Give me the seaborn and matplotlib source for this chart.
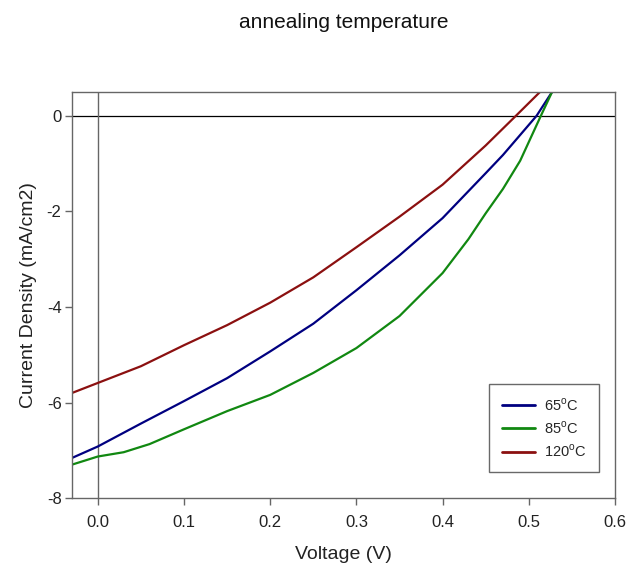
import numpy as np
import pandas as pd
import matplotlib
matplotlib.use("Agg")
import matplotlib.pyplot as plt
import seaborn as sns

# ---- data ----
v_65 = [-0.03, 0.00, 0.05, 0.10, 0.15, 0.20, 0.25, 0.30, 0.35, 0.40, 0.45, 0.47, 0.49, 0.509, 0.527]
j_65 = [-7.16, -6.92, -6.44, -5.97, -5.49, -4.93, -4.35, -3.65, -2.92, -2.14, -1.20, -0.82, -0.40, 0.00, 0.50]

v_85 = [-0.03, 0.00, 0.03, 0.06, 0.10, 0.15, 0.20, 0.25, 0.30, 0.35, 0.40, 0.43, 0.45, 0.47, 0.49, 0.514, 0.527]
j_85 = [-7.30, -7.13, -7.04, -6.87, -6.56, -6.18, -5.84, -5.38, -4.86, -4.19, -3.29, -2.58, -2.04, -1.53, -0.94, 0.00, 0.50]

v_120 = [-0.03, 0.00, 0.05, 0.10, 0.15, 0.20, 0.25, 0.30, 0.35, 0.40, 0.45, 0.485, 0.513]
j_120 = [-5.80, -5.59, -5.24, -4.80, -4.38, -3.91, -3.38, -2.75, -2.11, -1.44, -0.62, 0.00, 0.50]

labels = ["65$^{\\rm o}$C", "85$^{\\rm o}$C", "120$^{\\rm o}$C"]
colors = ["#000080", "#118811", "#8b1010"]

x_ticks = [0.0, 0.1, 0.2, 0.3, 0.4, 0.5, 0.6]
y_ticks = [-8, -6, -4, -2, 0]

frames = []
for lab, v, j in zip(labels, [v_65, v_85, v_120], [j_65, j_85, j_120]):
    frames.append(pd.DataFrame({"Voltage": v, "J": j, "series": lab}))
df = pd.concat(frames, ignore_index=True)

sns.set_style("white")
plt.rcParams["font.family"] = ["Liberation Sans", "DejaVu Sans"]
plt.rcParams["axes.unicode_minus"] = False
plt.rcParams["mathtext.fontset"] = "custom"
plt.rcParams["mathtext.rm"] = "Liberation Sans"

fig = plt.figure(figsize=(6.27, 5.66), dpi=100)
ax = fig.add_axes([0.1148, 0.120, 0.866, 0.7175])

sns.lineplot(data=df, x="Voltage", y="J", hue="series", hue_order=labels,
             palette=dict(zip(labels, colors)), sort=False, estimator=None,
             units="series", linewidth=1.6, ax=ax)

ax.axhline(0, color="black", linewidth=0.9, zorder=1)
ax.axvline(0, color="#666666", linewidth=1.0, zorder=1)

ax.set_xlim(-0.03, 0.6)
ax.set_ylim(-8, 0.5)
ax.set_xticks(x_ticks)
ax.set_xticklabels([f"{t:.1f}" for t in x_ticks])
ax.set_yticks(y_ticks)
ax.set_yticklabels([str(t) for t in y_ticks])

for s in ax.spines.values():
    s.set_visible(True)
    s.set_color("#666666")
    s.set_linewidth(1.0)
ax.tick_params(axis="both", direction="out", length=5, width=1.0, color="#666666",
               labelsize=12, labelcolor="#222222", bottom=True, left=True)
ax.tick_params(axis="x", pad=7.5)
ax.tick_params(axis="y", pad=2.5)

ax.set_xlabel("Voltage (V)", fontsize=14, color="#222222", labelpad=11)
ax.set_ylabel("Current Density (mA/cm2)", fontsize=14, color="#222222", labelpad=7)

fig.text(0.549, 0.960, "annealing temperature", fontsize=15, ha="center", va="center",
         color="#111111")

leg = ax.legend(loc="lower right", bbox_to_anchor=(0.971, 0.064), borderaxespad=0,
                fontsize=10.5, frameon=True, fancybox=False, edgecolor="#444444",
                borderpad=0.85, handlelength=2.3, handletextpad=0.6, labelspacing=0.45)
leg.get_frame().set_linewidth(1.0)
for line in leg.get_lines():
    line.set_linewidth(2.0)

fig.savefig("out.png", dpi=100)
